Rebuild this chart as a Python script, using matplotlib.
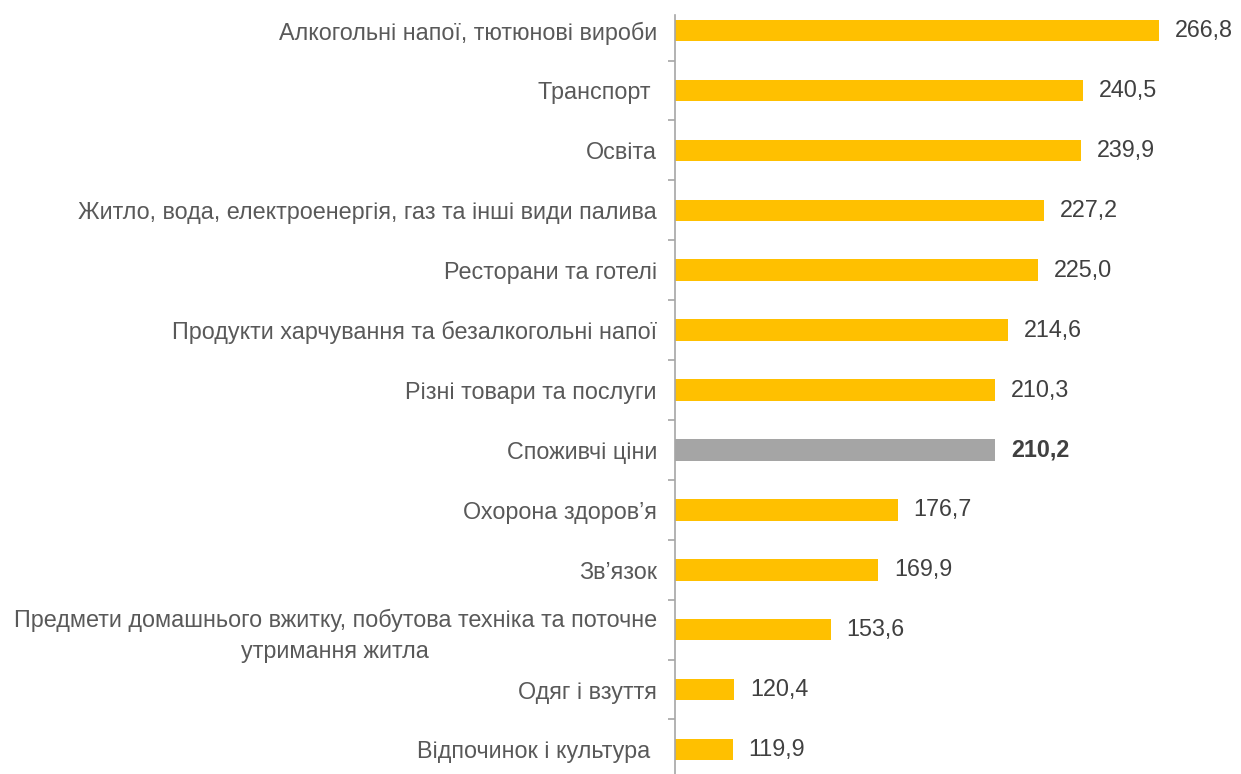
import matplotlib.pyplot as plt
import numpy as np

plt.rcParams['font.family'] = ['Liberation Sans', 'DejaVu Sans']

categories = [
    'Алкогольні напої, тютюнові вироби',
    'Транспорт ',
    'Освіта',
    'Житло, вода, електроенергія, газ та інші види палива',
    'Ресторани та готелі',
    'Продукти харчування та безалкогольні напої',
    'Різні товари та послуги',
    'Споживчі ціни',
    'Охорона здоров’я',
    'Зв’язок',
    'Предмети домашнього вжитку, побутова техніка та поточне\nутримання житла',
    'Одяг і взуття',
    'Відпочинок і культура ',
]
values = [266.8, 240.5, 239.9, 227.2, 225.0, 214.6, 210.3, 210.2,
          176.7, 169.9, 153.6, 120.4, 119.9]
labels = ['266,8', '240,5', '239,9', '227,2', '225,0', '214,6', '210,3',
          '210,2', '176,7', '169,9', '153,6', '120,4', '119,9']
total_idx = 7  # overall CPI row

base = 100
colors = ['#A5A5A5' if i == total_idx else '#FFC000' for i in range(len(values))]

fig = plt.figure(figsize=(12.41, 7.74), dpi=100)
ax = fig.add_axes([675 / 1241, 0.0, 1 - 675 / 1241, 1 - 15 / 774])

y = np.arange(len(values))
ax.barh(y, np.array(values) - base, left=base, height=0.36, color=colors)

for i, (v, lab) in enumerate(zip(values, labels)):
    ax.annotate(lab, xy=(v, i), xytext=(11.5, 0), textcoords='offset points',
                va='center', ha='left', fontsize=16.8, color='#404040',
                fontweight='bold' if i == total_idx else 'normal')

ax.set_xlim(base, 295)
ax.set_ylim(12.41, -0.26)

ax.set_yticks(y)
ax.set_yticklabels(categories, fontsize=16.8, color='#595959', ha='center',
                   multialignment='center', linespacing=1.45)
ax.set_yticks(np.arange(0.5, 12, 1), minor=True)
ax.tick_params(axis='y', which='major', length=0, pad=0)
ax.tick_params(axis='y', which='minor', length=5, width=1.2, color='#A6A6A6')
ax.set_xticks([])

# right-align label blocks against the axis while keeping wrapped lines centred
fig.canvas.draw()
renderer = fig.canvas.get_renderer()
ax_left = ax.get_window_extent().x0
for t in ax.get_yticklabels():
    bb = t.get_window_extent(renderer)
    shift = (ax_left - 18) - bb.x1
    t.set_transform(t.get_transform() + plt.matplotlib.transforms.Affine2D().translate(shift, 0))

for s in ['top', 'right', 'bottom']:
    ax.spines[s].set_visible(False)
ax.spines['left'].set_color('#A6A6A6')
ax.spines['left'].set_linewidth(1.2)

fig.savefig('out.png', dpi=100)
